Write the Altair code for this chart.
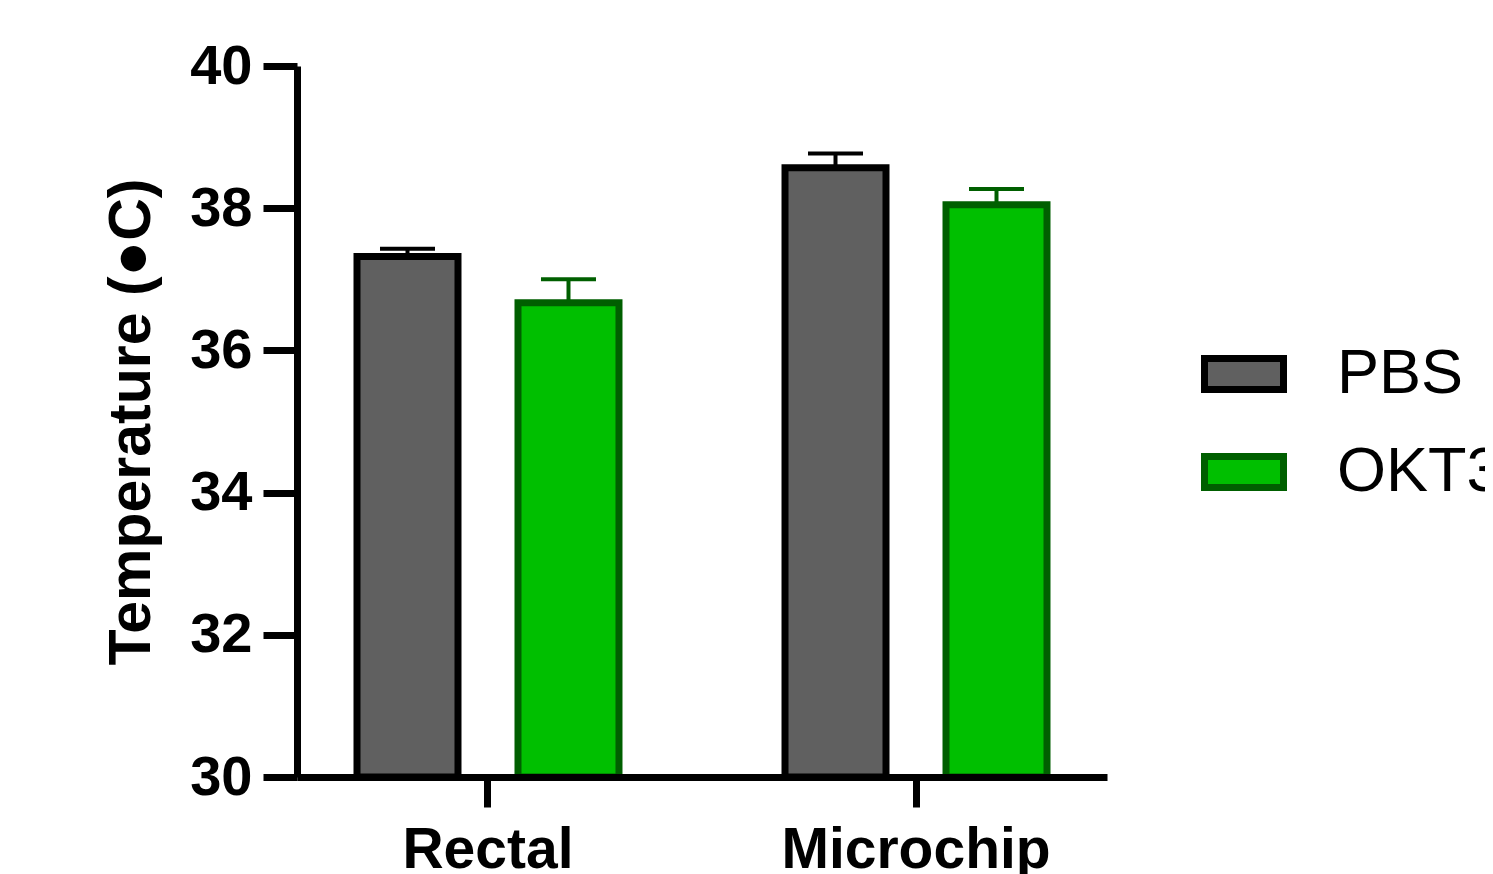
import altair as alt
import pandas as pd

measures = ["Rectal", "Rectal", "Microchip", "Microchip"]
groups = ["PBS", "OKT3", "PBS", "OKT3"]
means = [37.32, 36.67, 38.57, 38.05]
errors = [0.11, 0.33, 0.20, 0.22]

measure_order = ["Rectal", "Microchip"]
group_order = ["PBS", "OKT3"]
fill_colors = ["#606060", "#00BF00"]
stroke_colors = ["#000000", "#005F00"]
y_ticks = [30, 32, 34, 36, 38, 40]

df = pd.DataFrame({
    "measure": measures,
    "group": groups,
    "mean": means,
    "err": errors,
})
df["upper"] = df["mean"] + df["err"]

FONT = "Liberation Sans"

base = alt.Chart(df).encode(
    x=alt.X(
        "measure:N",
        sort=measure_order,
        scale=alt.Scale(paddingInner=0.1075, paddingOuter=0),
        axis=alt.Axis(
            title=None, labelAngle=0, labelFont=FONT, labelFontSize=57,
            labelFontWeight="bold", labelColor="black", tickSize=30, tickWidth=7,
            tickColor="black", domainWidth=7, domainColor="black", labelPadding=15,
            labelLimit=0, zindex=1,
        ),
    ),
    xOffset=alt.XOffset(
        "group:N", sort=group_order,
        scale=alt.Scale(paddingInner=0.3727, paddingOuter=0.3727),
    ),
)

legend = alt.Legend(
    title=None, orient="none", legendX=904, legendY=265,
    symbolType="M-1,-0.392H1V0.392H-1Z", symbolSize=6241, symbolStrokeWidth=7,
    labelFont=FONT, labelFontSize=63, labelColor="black", labelOffset=50,
    rowPadding=23, padding=0, labelLimit=0,
)

bars = base.mark_bar(strokeWidth=7).encode(
    y=alt.Y(
        "mean:Q",
        scale=alt.Scale(domain=[30, 40], zero=False, nice=False),
        axis=alt.Axis(
            title="Temperature (●C)", titleFont=FONT, titleFontSize=59,
            titleFontWeight="bold", titleColor="black", titlePadding=28,
            labelFont=FONT, labelFontSize=56, labelFontWeight="bold",
            labelColor="black", values=y_ticks, format="d", tickSize=34, tickWidth=7,
            tickColor="black", domainWidth=7, domainColor="black",
            labelPadding=11, grid=False, labelFlush=False, labelOverlap=False,
            zindex=1,
        ),
    ),
    y2=alt.datum(30),
    fill=alt.Fill("group:N", sort=group_order,
                  scale=alt.Scale(domain=group_order, range=fill_colors),
                  legend=legend),
    stroke=alt.Stroke("group:N", sort=group_order,
                      scale=alt.Scale(domain=group_order, range=stroke_colors),
                      legend=legend),
)

err_color = alt.Color("group:N", scale=alt.Scale(domain=group_order, range=stroke_colors),
                      legend=None)

stems = base.mark_rule(strokeWidth=4, opacity=1).encode(
    y="mean:Q", y2="upper:Q", color=err_color,
)

caps = base.mark_tick(thickness=4, size=55, opacity=1).encode(
    y="upper:Q", color=err_color,
)

chart = alt.layer(bars, stems, caps).properties(
    width=810, height=711,
    autosize=alt.AutoSizeParams(type="none"),
    padding={"left": 289, "top": 58, "right": 378, "bottom": 110},
    background="white",
).configure_view(stroke=None)

chart.save("out.html", embed_options={"renderer": "svg", "actions": False})
